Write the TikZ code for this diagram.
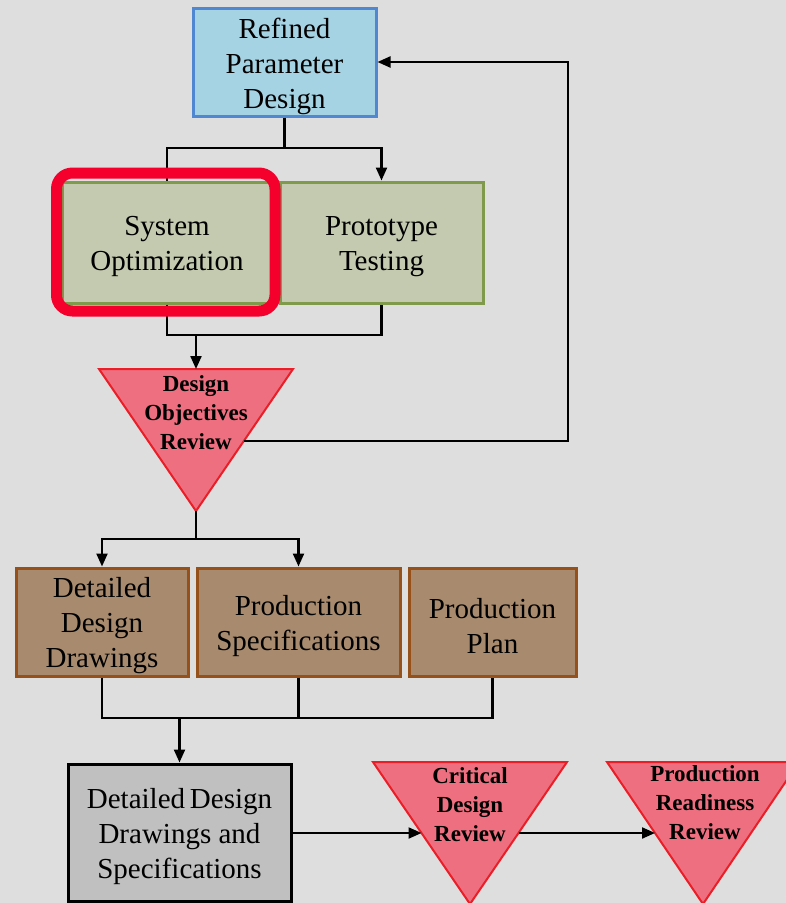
\documentclass[tikz,border=0pt]{standalone}
\usepackage{fontspec}
\setmainfont{Liberation Serif}
\usetikzlibrary{arrows.meta}
\definecolor{bgc}{RGB}{222,222,222}
\definecolor{bluef}{RGB}{166,211,228}
\definecolor{blued}{RGB}{80,135,210}
\definecolor{greenf}{RGB}{196,202,175}
\definecolor{greend}{RGB}{126,154,74}
\definecolor{brownf}{RGB}{168,139,110}
\definecolor{brownd}{RGB}{150,80,25}
\definecolor{pinkf}{RGB}{238,112,128}
\definecolor{pinkd}{RGB}{235,30,40}
\definecolor{greyf}{RGB}{192,192,192}
\definecolor{hl}{RGB}{245,0,45}
\begin{document}
\begin{tikzpicture}[x=1pt,y=-1pt,
  conn/.style={line width=2.2pt,draw=black},
  arr/.style={conn,-{Triangle[length=13pt,width=11pt]}},
  box/.style={line width=3pt,inner sep=0pt},
  boxtext/.style={align=center,inner sep=0pt,yshift=-4pt,
    font=\fontsize{29}{35}\selectfont},
  bluebox/.style={box,fill=bluef,draw=blued},
  greenbox/.style={box,fill=greenf,draw=greend},
  brownbox/.style={box,fill=brownf,draw=brownd},
  greybox/.style={box,fill=greyf,draw=black},
  tri/.style={fill=pinkf,draw=pinkd,line width=2pt,line join=miter},
  tritext/.style={align=center,inner sep=0pt,
    font=\fontsize{23}{29}\selectfont\bfseries},
  highlight/.style={draw=hl,line width=11pt,rounded corners=16pt,
    inner sep=0pt}]
\fill[bgc] (0,0) rectangle (786,903);
\useasboundingbox (0,0) rectangle (786,903);

% boxes
\node[bluebox,minimum width=183pt,minimum height=108pt,
  label={[boxtext]center:{Refined\\Parameter\\Design}}] (rpd) at (284.5,62) {};
\node[greenbox,minimum width=210pt,minimum height=121pt,
  label={[boxtext]center:{System\\Optimization}}] (so) at (167,242.5) {};
\node[greenbox,minimum width=203pt,minimum height=121pt,
  label={[boxtext]center:{Prototype\\Testing}}] (pt) at (381.5,242.5) {};
\node[brownbox,minimum width=172pt,minimum height=108pt,
  label={[boxtext]center:{Detailed\\Design\\Drawings}}] (b1) at (102,622) {};
\node[brownbox,minimum width=203pt,minimum height=108pt,
  label={[boxtext]center:{Production\\Specifications}}] (b2) at (298.5,622) {};
\node[brownbox,minimum width=167pt,minimum height=108pt,
  label={[boxtext]center:{Production\\Plan}}] (b3) at (492.5,622) {};
\node[greybox,minimum width=223pt,minimum height=137pt,
  label={[boxtext]center:{Detailed\,Design\\Drawings and\\Specifications}}] (gb) at (179.5,832.5) {};

% triangles
\draw[tri] (99,369) -- (293,369) -- (196,511) coordinate (t1apex) -- cycle;
\coordinate (t1in) at (196,369);
\coordinate (t1r) at (244,441);
\node[tritext] (dor) at (196,413) {Design\\Objectives\\Review};

\draw[tri] (373,762) -- (567,762) -- (470,904) -- cycle;
\coordinate (t2l) at (421.5,833);
\coordinate (t2r) at (518.5,833);
\node[tritext] (cdr) at (470,805) {Critical\\Design\\Review};

\draw[tri] (607,762) -- (799,762) -- (703,904) -- cycle;
\coordinate (t3l) at (655,833);
\node[tritext] (prr) at (705,803) {Production\\Readiness\\Review};

% connectors
\coordinate (j1) at (284.5,148);
\draw[conn] (rpd.south) -- (j1);
\draw[conn] (j1) -| (so.north);
\draw[arr] (j1) -| (pt.north);

\coordinate (j2) at (196,335);
\draw[conn] (so.south) |- (j2) -| (pt.south);
\draw[arr] (j2) -- (t1in);

\coordinate (fb) at (568,441);
\draw[arr] (t1r) -- (fb) |- (rpd.east);

\coordinate (j3) at (196,539);
\draw[conn] (t1apex) -- (j3);
\draw[arr] (j3) -| (b1.north);
\draw[arr] (j3) -| (b2.north);

\coordinate (j4) at (179.5,718);
\draw[conn] (b1.south) |- (j4) -| (b3.south);
\draw[conn] (b2.south) -- (b2.south |- j4);
\draw[arr] (j4) -- (gb.north);

\draw[arr] (gb.east |- t2l) -- (t2l);
\draw[arr] (t2r) -- (t3l);

% highlight
\node[highlight,minimum width=218.5pt,minimum height=138pt] (hlbox) at (165.75,242) {};
\end{tikzpicture}
\end{document}
